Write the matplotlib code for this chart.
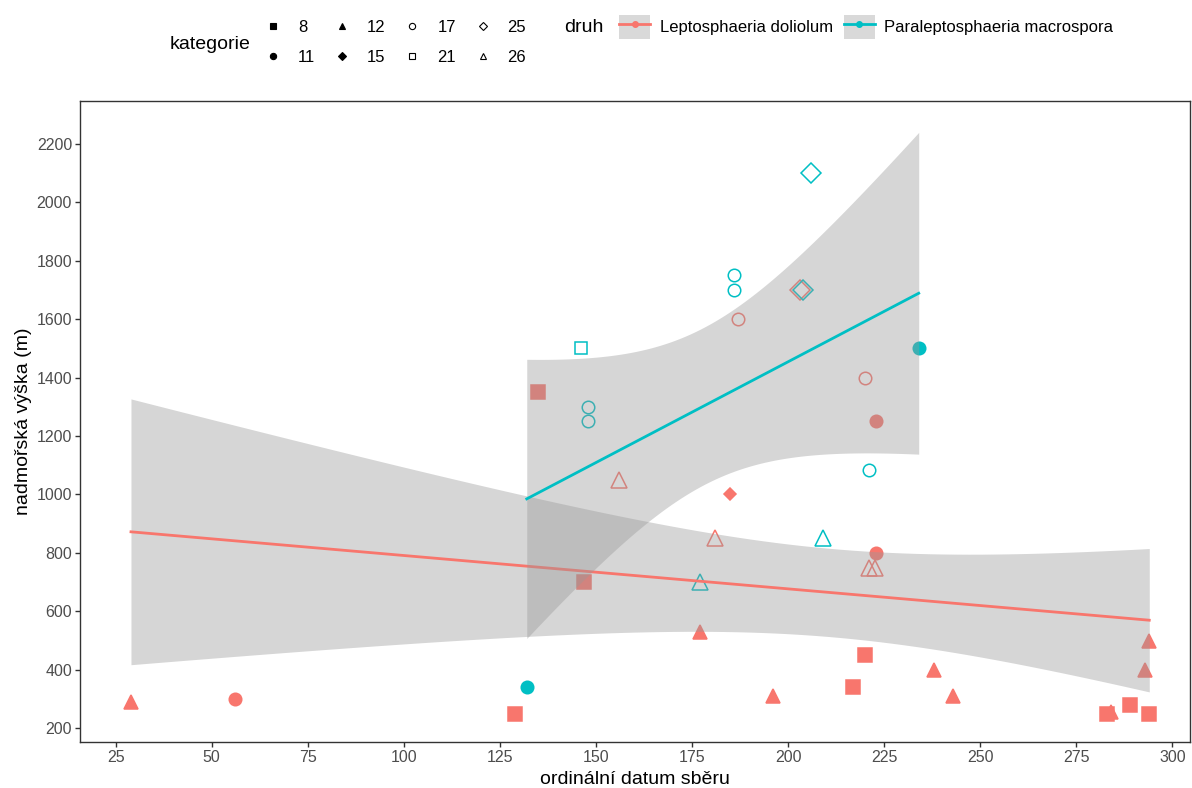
import numpy as np
import matplotlib.pyplot as plt
from matplotlib.lines import Line2D
from matplotlib.patches import Patch
from matplotlib.legend_handler import HandlerTuple

plt.rcParams.update({"font.family": ["Liberation Sans", "DejaVu Sans"]})

# Leptosphaeria doliolum
lep_day = [29, 56, 129, 135, 156, 147, 177, 185, 181, 187, 203, 196, 220, 223,
           223, 221, 222.5, 220, 217, 238, 243, 283, 284, 289, 294, 294, 293,
           204, 220, 227, 285, 292]
lep_alt = [290, 300, 250, 1350, 1050, 700, 530, 1000, 850, 1600, 1700, 310, 1400, 1250,
           800, 750, 750, 450, 340, 400, 310, 250, 255, 280, 250, 500, 400,
           740, 660, 625, 430, 470]
# None = record without a plotted shape (kept in the fit only)
lep_cat = [12, 11, 8, 8, 26, 8, 12, 15, 26, 17, 25, 12, 17, 11,
           11, 26, 26, 8, 8, 12, 12, 8, 12, 8, 8, 12, 12,
           None, None, None, None, None]

# Paraleptosphaeria macrospora
par_day = [132, 146, 148, 148, 186, 186, 177, 206, 204, 209, 221, 234,
           134, 159, 180]
par_alt = [340, 1500, 1300, 1250, 1750, 1700, 700, 2100, 1700, 850, 1085, 1500,
           515, 1365, 1880]
par_cat = [11, 21, 17, 17, 17, 17, 26, 25, 25, 26, 17, 11,
           None, None, None]

categories = [8, 11, 12, 15, 17, 21, 25, 26]
species = ["Leptosphaeria doliolum", "Paraleptosphaeria macrospora"]
colors = ["#F8766D", "#00BFC4"]

# marker, filled, size (pt)
shapes = {8: ("s", True, 9.5), 11: ("o", True, 9), 12: ("^", True, 10),
          15: ("D", True, 6), 17: ("o", False, 9), 21: ("s", False, 9),
          25: ("D", False, 10), 26: ("^", False, 12)}

# two-sided 95% t quantiles for n-2 degrees of freedom
t_crit = {30: 2.042, 13: 2.160}

fig = plt.figure(figsize=(11.92, 7.88), dpi=100)
ax = fig.add_axes([0.067, 0.058, 0.931, 0.814])

groups = [(lep_day, lep_alt, lep_cat), (par_day, par_alt, par_cat)]

for (xs, ys, cs), col in zip(groups, colors):
    for x, y, c in zip(xs, ys, cs):
        if c is None:
            continue
        m, filled, ms = shapes[c]
        ax.plot(x, y, marker=m, ms=ms, ls="none",
                mfc=col if filled else "none", mec=col, mew=1.1, zorder=2)

z = 3
for (xs, ys, cs), col in zip(groups, colors):
    x = np.asarray(xs, float)
    y = np.asarray(ys, float)
    n = len(x)
    b, a = np.polyfit(x, y, 1)
    resid = y - (a + b * x)
    s = np.sqrt(np.sum(resid ** 2) / (n - 2))
    sxx = np.sum((x - x.mean()) ** 2)
    xg = np.linspace(x.min(), x.max(), 80)
    yg = a + b * xg
    se = s * np.sqrt(1 / n + (xg - x.mean()) ** 2 / sxx)
    t = t_crit[n - 2]
    ax.fill_between(xg, yg - t * se, yg + t * se, color="#999999", alpha=0.4,
                    lw=0, zorder=z)
    ax.plot(xg, yg, color=col, lw=2.0, zorder=z + 1)
    z += 2

ax.set_xlim(15.7, 304.5)
ax.set_ylim(152, 2347)
ax.set_xticks(np.arange(25, 301, 25))
ax.set_yticks(np.arange(200, 2201, 200))
ax.tick_params(direction="out", length=3.6, width=1, color="#333333",
               labelcolor="#4D4D4D", labelsize=11.5, pad=2)
for sp in ax.spines.values():
    sp.set_color("#333333")
    sp.set_linewidth(1)
ax.set_xlabel("ordinální datum sběru", fontsize=14, labelpad=4)
ax.set_ylabel("nadmořská výška (m)", fontsize=14, labelpad=3)

# legend: kategorie
cat_handles = []
for c in categories:
    m, filled, ms = shapes[c]
    cat_handles.append(Line2D([], [], marker=m, ls="none", ms=4.5,
                              mfc="black" if filled else "none", mec="black", mew=0.8))
fig.text(0.176, 0.944, "kategorie", fontsize=14, va="center", ha="center")
fig.legend(cat_handles, [str(c) for c in categories], ncol=4,
           loc="center left", bbox_to_anchor=(0.2165, 0.9467), frameon=False,
           fontsize=12, handlelength=1.0, handletextpad=1.0, columnspacing=1.1,
           labelspacing=0.9, borderaxespad=0)

# legend: druh
sp_handles = []
for col in colors:
    sp_handles.append((Patch(facecolor="#D9D9D9", edgecolor="none"),
                       Line2D([], [], color=col, lw=2.0, marker="o", ms=4)))
fig.text(0.49, 0.9657, "druh", fontsize=14, va="center", ha="center")
fig.legend(sp_handles, species, ncol=2, loc="center left",
           bbox_to_anchor=(0.514, 0.9657), frameon=False, fontsize=12,
           handler_map={tuple: HandlerTuple(ndivide=1)},
           handlelength=1.86, handleheight=1.86, handletextpad=0.55,
           columnspacing=0.66, borderaxespad=0)

plt.savefig("out.png", dpi=100)
